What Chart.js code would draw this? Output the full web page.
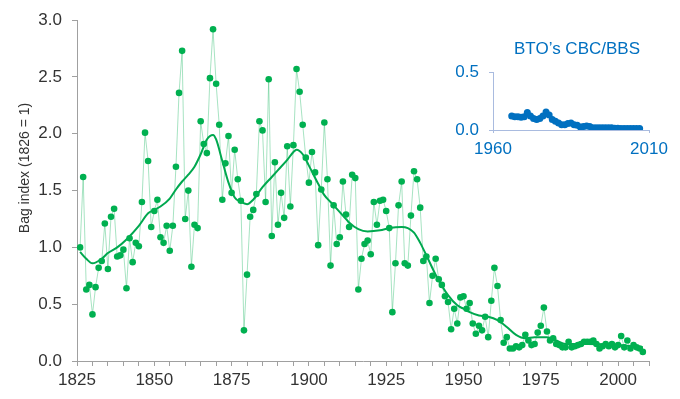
<!DOCTYPE html>
<html>
<head>
<meta charset="utf-8">
<script src="https://cdn.jsdelivr.net/npm/chart.js@4/dist/chart.umd.min.js"></script>
<style>
  html, body { margin: 0; padding: 0; background: #fff; overflow: hidden; }
  #wrap { position: relative; width: 680px; height: 399px; }
  #main { position: absolute; left: 0; top: 0; }
  #inset { position: absolute; left: 430px; top: 20px; }
</style>
</head>
<body>
<div id="wrap">
  <canvas id="main" width="680" height="399"></canvas>
  <canvas id="inset" width="250" height="145"></canvas>
</div>
<script>
// bag index, one value per year starting 1826
const firstYear = 1826;
const bagIndex = [
  1.00, 1.62, 0.63, 0.67, 0.41, 0.65, 0.82, 0.88, 1.21, 0.81, 1.27, 1.34, 0.92, 0.93,       // 1826-39
  0.98, 0.64, 1.08, 0.87, 1.04, 1.01, 1.40, 2.01, 1.76, 1.18,                               // 1840s
  1.32, 1.42, 1.09, 1.04, 1.19, 0.97, 1.19, 1.71, 2.36, 2.73,                               // 1850s
  1.25, 1.50, 0.83, 1.20, 1.17, 2.11, 1.91, 1.83, 2.49, 2.92,                               // 1860s
  2.44, 2.08, 1.42, 1.74, 1.98, 1.48, 1.86, 1.60, 1.41, 0.27,                               // 1870s
  0.76, 1.27, 1.33, 1.47, 2.11, 2.03, 1.40, 2.48, 1.10, 1.75,                               // 1880s
  1.20, 1.48, 1.26, 1.89, 1.36, 1.90, 2.57, 2.37, 2.08, 1.79,                               // 1890s
  1.57, 1.84, 1.66, 1.02, 1.51, 2.10, 1.60, 0.84, 1.37, 1.03,                               // 1900s
  1.09, 1.58, 1.29, 1.18, 1.64, 1.61, 0.63, 0.90, 1.03, 1.06,                               // 1910s
  0.94, 1.40, 1.20, 1.41, 1.42, 1.32, 1.17, 0.43, 0.86, 1.37,                               // 1920s
  1.58, 0.86, 0.84, 1.28, 1.67, 1.60, 1.35, 0.88, 0.92, 0.51,                               // 1930s
  0.75, 0.90, 0.72, 0.67, 0.57, 0.52, 0.28, 0.46, 0.33, 0.56,                               // 1940s
  0.57, 0.46, 0.51, 0.33, 0.24, 0.31, 0.27, 0.39, 0.21, 0.53,                               // 1950s
  0.82, 0.66, 0.36, 0.16, 0.21, 0.11, 0.11, 0.13, 0.12, 0.14,                               // 1960s
  0.23, 0.18, 0.14, 0.15, 0.25, 0.31, 0.47, 0.26, 0.18, 0.20,                               // 1970s
  0.15, 0.14, 0.12, 0.12, 0.17, 0.12, 0.13, 0.14, 0.15, 0.17,                               // 1980s
  0.17, 0.17, 0.18, 0.15, 0.11, 0.13, 0.15, 0.13, 0.15, 0.12,                               // 1990s
  0.14, 0.22, 0.12, 0.18, 0.11, 0.14, 0.12, 0.11, 0.08                                      // 2000-08
];

// smoothed trend
const trendYears = [1826, 1828, 1830, 1833, 1835, 1838, 1841, 1845, 1848, 1850, 1852, 1855, 1857, 1859,
  1861, 1863, 1865, 1867, 1869, 1870, 1872, 1874, 1876, 1878, 1880, 1882, 1885, 1888, 1890, 1893,
  1895, 1896, 1898, 1900, 1903, 1905, 1907, 1910, 1913, 1916, 1919, 1923, 1926, 1930, 1932, 1934,
  1936, 1938, 1941, 1945, 1948, 1950, 1952, 1955, 1958, 1961, 1964, 1967, 1970, 1973, 1977, 1980,
  1983, 1990, 2000, 2008];
const trendValues = [0.96, 0.90, 0.86, 0.90, 0.95, 1.00, 1.07, 1.19, 1.30, 1.33, 1.36, 1.43, 1.51, 1.58,
  1.64, 1.71, 1.82, 1.95, 1.99, 1.95, 1.76, 1.57, 1.44, 1.40, 1.38, 1.42, 1.53, 1.62, 1.68, 1.77,
  1.84, 1.86, 1.82, 1.72, 1.56, 1.46, 1.40, 1.31, 1.22, 1.16, 1.14, 1.15, 1.17, 1.18, 1.17, 1.13,
  1.04, 0.93, 0.76, 0.58, 0.49, 0.46, 0.43, 0.40, 0.39, 0.36, 0.30, 0.23, 0.20, 0.21, 0.21, 0.18,
  0.15, 0.15, 0.14, 0.12];

// BTO CBC/BBS index for the inset, one value per year starting 1966
const cbcFirstYear = 1966;
const cbcIndex = [
  0.120, 0.115, 0.115, 0.110,                                                   // 1966-69
  0.115, 0.150, 0.120, 0.100, 0.090, 0.100, 0.120, 0.155, 0.130, 0.090,         // 1970s
  0.075, 0.060, 0.045, 0.045, 0.055, 0.060, 0.045, 0.040, 0.025, 0.030,         // 1980s
  0.035, 0.030, 0.020, 0.020, 0.020, 0.020, 0.020, 0.020, 0.020, 0.015,         // 1990s
  0.015, 0.012, 0.012, 0.012, 0.012, 0.012, 0.012, 0.012                        // 2000-07
];

const xLabelYears = [1825, 1850, 1875, 1900, 1925, 1950, 1975, 2000];
const insetLabelYears = [1960, 2010];

const family = "'Liberation Sans', Arial, sans-serif";
const green = '#00b050';
const blue = '#0070c0';

const textPlugin = {
  id: 'freeText',
  afterDraw(chart, args, opts) {
    const ctx = chart.ctx;
    ctx.save();
    ctx.font = opts.font;
    ctx.fillStyle = opts.color;
    ctx.textAlign = 'center';
    ctx.textBaseline = 'middle';
    ctx.translate(opts.x, opts.y);
    ctx.rotate(opts.rotation || 0);
    ctx.fillText(opts.text, 0, 0);
    ctx.restore();
  }
};

const bagPoints = bagIndex.map((v, i) => ({ x: firstYear + i, y: v }));
const trendPoints = trendYears.map((yr, i) => ({ x: yr, y: trendValues[i] }));
const cbcPoints = cbcIndex.map((v, i) => ({ x: cbcFirstYear + i, y: v }));

new Chart(document.getElementById('main'), {
  type: 'line',
  data: {
    datasets: [
      {
        data: bagPoints,
        borderColor: 'rgba(0,176,80,0.35)',
        borderWidth: 1,
        pointRadius: 3.3,
        pointBackgroundColor: green,
        pointBorderWidth: 0,
        tension: 0
      },
      {
        data: trendPoints,
        borderColor: '#00a84f',
        borderWidth: 2,
        pointRadius: 0,
        cubicInterpolationMode: 'monotone'
      }
    ]
  },
  options: {
    responsive: false,
    animation: false,
    layout: { padding: { top: 15, right: 31, bottom: 0, left: 0 } },
    plugins: {
      legend: { display: false },
      tooltip: { enabled: false },
      freeText: { text: 'Bag index (1826 = 1)', x: 25, y: 168, rotation: -Math.PI / 2, font: '14px ' + family, color: '#333' }
    },
    scales: {
      x: {
        type: 'linear',
        min: 1825,
        max: 2010,
        afterFit: s => { s.height = 38; },
        grid: { drawOnChartArea: false, tickLength: 5, color: '#a0a0a0' },
        border: { color: '#a0a0a0' },
        ticks: {
          stepSize: 5,
          autoSkip: false,
          maxRotation: 0,
          padding: 4,
          color: '#333',
          font: { size: 17, family },
          callback: v => xLabelYears.includes(v) ? String(v) : ''
        }
      },
      y: {
        min: 0,
        max: 3,
        afterFit: s => { s.width = 77; },
        grid: { drawOnChartArea: false, tickLength: 5, color: '#a0a0a0' },
        border: { color: '#a0a0a0' },
        ticks: {
          stepSize: 0.5,
          padding: 10,
          color: '#333',
          font: { size: 17, family },
          callback: v => v.toFixed(1)
        }
      }
    }
  },
  plugins: [textPlugin]
});

new Chart(document.getElementById('inset'), {
  type: 'line',
  data: {
    datasets: [{
      data: cbcPoints,
      borderColor: blue,
      borderWidth: 3,
      pointRadius: 3.5,
      pointBackgroundColor: blue,
      pointBorderWidth: 0,
      tension: 0
    }]
  },
  options: {
    responsive: false,
    animation: false,
    layout: { padding: { top: 52, right: 31, bottom: 0, left: 0 } },
    plugins: {
      legend: { display: false },
      tooltip: { enabled: false },
      freeText: { text: 'BTO\u2019s CBC/BBS', x: 147, y: 29, font: '17px ' + family, color: blue }
    },
    scales: {
      x: {
        type: 'linear',
        min: 1960,
        max: 2010,
        afterFit: s => { s.height = 35; },
        grid: { drawOnChartArea: false, tickLength: 3, color: '#a9bbdf' },
        border: { color: '#a9bbdf' },
        ticks: {
          stepSize: 50,
          autoSkip: false,
          maxRotation: 0,
          padding: 6,
          color: blue,
          font: { size: 17, family },
          callback: v => insetLabelYears.includes(v) ? String(v) : ''
        }
      },
      y: {
        min: 0,
        max: 0.5,
        afterFit: s => { s.width = 63; },
        grid: { drawOnChartArea: false, tickLength: 4, color: '#a9bbdf' },
        border: { color: '#a9bbdf' },
        ticks: {
          stepSize: 0.5,
          padding: 10,
          color: blue,
          font: { size: 17, family },
          callback: v => v.toFixed(1)
        }
      }
    }
  },
  plugins: [textPlugin]
});
</script>
</body>
</html>
